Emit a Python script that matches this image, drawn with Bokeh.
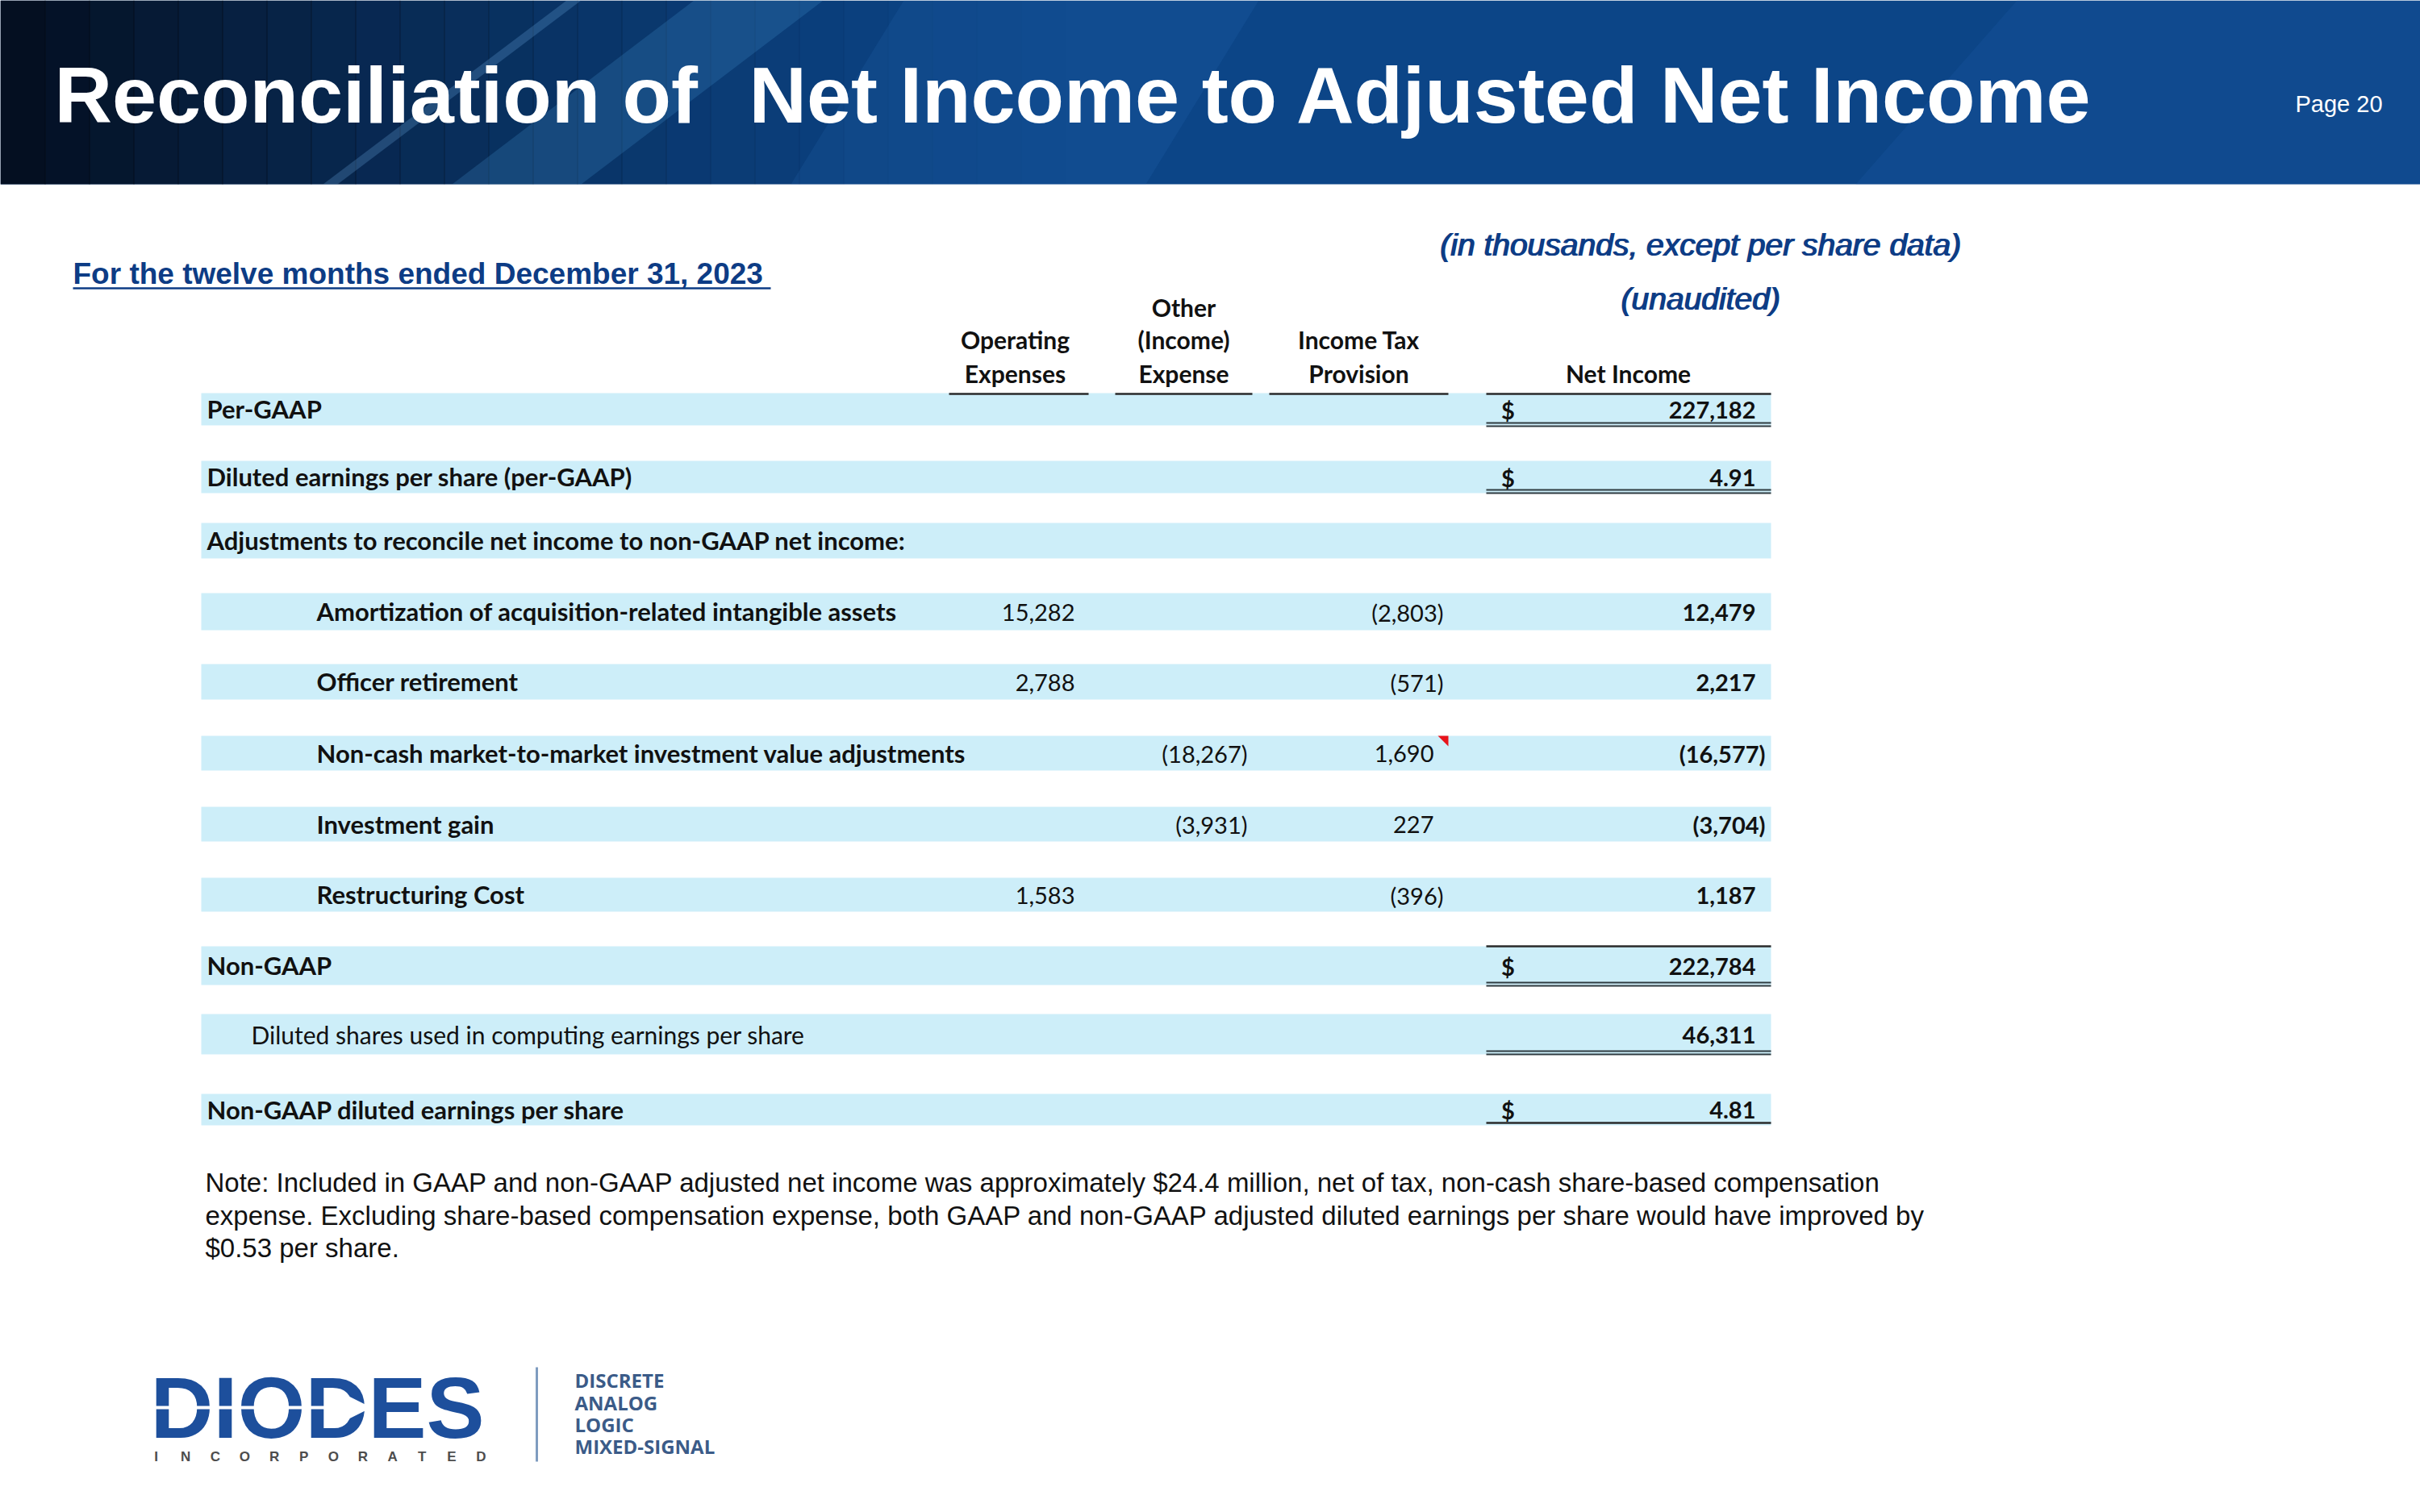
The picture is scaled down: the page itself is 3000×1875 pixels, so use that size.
from bokeh.plotting import figure
from bokeh.models import Range1d
from bokeh.embed import file_html
from bokeh.resources import INLINE
from bokeh.core.properties import value

# ---------------- data ----------------
title = "Reconciliation of  Net Income to Adjusted Net Income"
page_label = "Page 20"
period = "For the twelve months ended December 31, 2023"
units_note = "(in thousands, except per share data)"
audit_note = "(unaudited)"
col_headers = [["Operating", "Expenses"], ["Other", "(Income)", "Expense"],
               ["Income Tax", "Provision"], ["Net Income"]]
row_labels = ["Per-GAAP",
              "Diluted earnings per share (per-GAAP)",
              "Adjustments to reconcile net income to non-GAAP net income:",
              "Amortization of acquisition-related intangible assets",
              "Officer retirement",
              "Non-cash market-to-market investment value adjustments",
              "Investment gain",
              "Restructuring Cost",
              "Non-GAAP",
              "Diluted shares used in computing earnings per share",
              "Non-GAAP diluted earnings per share"]
operating_expenses = [None, None, None, 15282, 2788, None, None, 1583, None, None, None]
other_income_expense = [None, None, None, None, None, -18267, -3931, None, None, None, None]
income_tax_provision = [None, None, None, -2803, -571, 1690, 227, -396, None, None, None]
net_income = [227182, 4.91, None, 12479, 2217, -16577, -3704, 1187, 222784, 46311, 4.81]
dollar_rows = [True, True, False, False, False, False, False, False, True, False, True]
per_share_rows = [1, 10]
note_lines = ["Note:  Included in GAAP and non-GAAP adjusted net income was approximately $24.4 million, net of tax, non-cash share-based compensation",
              "expense.  Excluding share-based compensation expense, both GAAP and non-GAAP adjusted diluted earnings per share would have improved by",
              "$0.53 per share."]
logo_word = "DIODES"
logo_sub = "INCORPORATED"
logo_lines = ["DISCRETE", "ANALOG", "LOGIC", "MIXED-SIGNAL"]

# ---------------- layout (page pixel coordinates, y down) ----------------
band_top = [487, 571, 648, 735, 823, 912, 1000, 1088, 1173, 1257, 1356]
band_bot = [527, 611, 692, 781, 867, 955, 1043, 1130, 1221, 1307, 1395]
label_level = [0, 0, 0, 2, 2, 2, 2, 2, 0, 1, 0]
label_bold = [True] * 9 + [False, True]
level_x = {0: 256, 1: 311, 2: 392}
BAND_L, BAND_R = 249, 2195
col_edges = [1344, 1546, 1789, 2188]
col_centers = [1258, 1467, 1684, 2018]
col_lines = [(1176, 1349), (1382, 1552), (1573, 1795), (1842, 2195)]
POS_PAD = 12
TXT = "#111111"
NAVY = "#0d3c85"
H = 1875
ADJ = 0.36  # renderer places the alphabetic baseline this many em lower


def Y(v):
    if isinstance(v, (list, tuple)):
        return [H - a for a in v]
    return H - v


def TY(base, size):
    if isinstance(base, (list, tuple)):
        return [H - (b - ADJ * size) for b in base]
    return H - (base - ADJ * size)


p = figure(width=3000, height=1875, x_range=Range1d(0, 3000), y_range=Range1d(0, 1875),
           output_backend="svg", toolbar_location=None, min_border=0,
           x_axis_location=None, y_axis_location=None)
p.grid.visible = False
p.outline_line_color = None
p.background_fill_color = "white"
p.border_fill_color = "white"

# ---------------- header banner ----------------
p.quad(left=[0], right=[3000], top=[Y(0)], bottom=[Y(228)], color="#0c4587", line_color=None)
n = 24
for i in range(n):
    a = 0.92 * (1 - i / n) ** 1.6
    p.quad(left=[i * 55], right=[i * 55 + 56], top=[Y(0)], bottom=[Y(228)], color="#040b18",
           alpha=a, line_color=None)
p.patch([980, 1420, 1560, 1120], Y([228, 228, 0, 0]), color="#2f7bc4", alpha=0.14, line_color=None)
p.patch([560, 720, 1020, 860], Y([228, 228, 0, 0]), color="#4a9ad8", alpha=0.22, line_color=None)
p.patch([400, 418, 720, 702], Y([228, 228, 0, 0]), color="#6fb0e6", alpha=0.25, line_color=None)
p.patch([2300, 3000, 3000, 2500], Y([228, 228, 0, 0]), color="#1a5aa6", alpha=0.25, line_color=None)

title_parts = title.split("  ")
p.text(x=[67, 928], y=[TY(153, 99)] * 2, text=title_parts, text_font=value("Liberation Sans"),
       text_font_size="99px", text_font_style="bold", text_color="white", text_baseline="alphabetic")
p.text(x=[2845], y=[TY(139, 29)], text=[page_label], text_font=value("Liberation Sans"), text_font_size="29px",
       text_color="white", text_baseline="alphabetic")

# ---------------- sub headings ----------------
p.text(x=[90], y=[TY(352, 37)], text=[period], text_font=value("Liberation Sans"), text_font_size="37px",
       text_font_style="bold", text_color=NAVY, text_baseline="alphabetic")
p.segment(x0=[90], y0=[Y(357)], x1=[955], y1=[Y(357)], line_color=NAVY, line_width=2.5)
for dx in (0, 1.5):
    p.text(x=[2107 + dx, 2107 + dx], y=TY([317, 384], 39), text=[units_note, audit_note],
           text_font=value("Liberation Sans"), text_font_size="39px", text_font_style="italic",
           text_color=NAVY, text_align="center", text_baseline="alphabetic")

# ---------------- table bands ----------------
p.quad(left=[BAND_L] * len(band_top), right=[BAND_R] * len(band_top), top=Y(band_top), bottom=Y(band_bot),
       color="#cdeef9", line_color=None)

hdr_base = [391, 431, 473]
for cx, lines in zip(col_centers, col_headers):
    ys = hdr_base[3 - len(lines):]
    p.text(x=[cx] * len(lines), y=TY(ys, 30), text=lines, text_font=value("Lato"), text_font_size="30px",
           text_font_style="bold", text_color=TXT, text_align="center", text_baseline="alphabetic")
p.segment(x0=[a for a, b in col_lines], x1=[b for a, b in col_lines], y0=[Y(488)] * 4, y1=[Y(488)] * 4,
          line_color="#2a2a2a", line_width=2.5)

centers = [(t + b) / 2 for t, b in zip(band_top, band_bot)]

for bold, size in ((True, 31), (False, 30)):
    idx = [i for i in range(len(row_labels)) if label_bold[i] == bold]
    p.text(x=[level_x[label_level[i]] for i in idx], y=[TY(centers[i] + 11, size) for i in idx],
           text=[row_labels[i] for i in idx], text_font=value("Lato"), text_font_size=f"{size}px",
           text_font_style="bold" if bold else "normal", text_color=TXT, text_baseline="alphabetic")


def fmt(v, dec):
    s = f"{abs(v):,.{dec}f}"
    return f"({s})" if v < 0 else s


for vals, edge, bold in zip([operating_expenses, other_income_expense, income_tax_provision, net_income],
                            col_edges, [False, False, False, True]):
    xs, ys, ts = [], [], []
    for i, v in enumerate(vals):
        if v is None:
            continue
        xs.append(edge if v < 0 else edge - POS_PAD)
        ys.append(TY(centers[i] + 11, 29))
        ts.append(fmt(v, 2 if i in per_share_rows else 0))
    p.text(x=xs, y=ys, text=ts, text_font=value("Lato"), text_font_size="29px",
           text_font_style="bold" if bold else "normal", text_color=TXT,
           text_align="right", text_baseline="alphabetic")

didx = [i for i, d in enumerate(dollar_rows) if d]
p.text(x=[1869] * len(didx), y=[TY(centers[i] + 11, 29) for i in didx], text=["$"] * len(didx),
       text_font=value("Lato"), text_font_size="29px", text_font_style="bold", text_color=TXT,
       text_align="center", text_baseline="alphabetic")

NL, NR = 1842, 2195
single_y = [1173, 1392]
double_y = [524, 528, 607, 611, 1218, 1222, 1303, 1307]
p.segment(x0=[NL] * len(single_y), x1=[NR] * len(single_y), y0=Y(single_y), y1=Y(single_y),
          line_color="#2a2a2a", line_width=2.5)
p.segment(x0=[NL] * len(double_y), x1=[NR] * len(double_y), y0=Y(double_y), y1=Y(double_y),
          line_color="#2f3b40", line_width=2.2)

p.patch([1782, 1795, 1795], Y([912, 912, 925]), color="#e8141b", line_color=None)

# ---------------- note ----------------
p.text(x=[254] * 3, y=TY([1478, 1519, 1559], 33), text=note_lines, text_font=value("Liberation Sans"),
       text_font_size="33px", text_color=TXT, text_baseline="alphabetic")

# ---------------- logo ----------------
p.text(x=[186], y=[TY(1784, 108)], text=[logo_word], text_font=value("Liberation Sans"), text_font_size="108px",
       text_font_style="bold", text_color="#1d4f9c", text_baseline="alphabetic")
p.segment(x0=[188], y0=[Y(1745)], x1=[460], y1=[Y(1745)], line_color="white", line_width=4)
p.patch([430, 430, 460], Y([1730, 1760, 1745]), color="white", line_color=None)
nL = len(logo_sub)
p.text(x=[193 + k * (596 - 193) / (nL - 1) for k in range(nL)], y=[TY(1812, 17)] * nL, text=list(logo_sub),
       text_font=value("Liberation Sans"), text_font_size="17px", text_font_style="bold",
       text_color="#4d4d4d", text_align="center", text_baseline="alphabetic")
p.segment(x0=[665], y0=[Y(1695)], x1=[665], y1=[Y(1812)], line_color="#7f9cc0", line_width=3)
p.text(x=[712] * 4, y=TY([1720, 1748, 1775, 1802], 24), text=logo_lines, text_font=value("Open Sans"),
       text_font_size="24px", text_font_style="bold", text_color="#3b5b88", text_baseline="alphabetic")

open("out.html", "w").write(file_html(p, INLINE))
